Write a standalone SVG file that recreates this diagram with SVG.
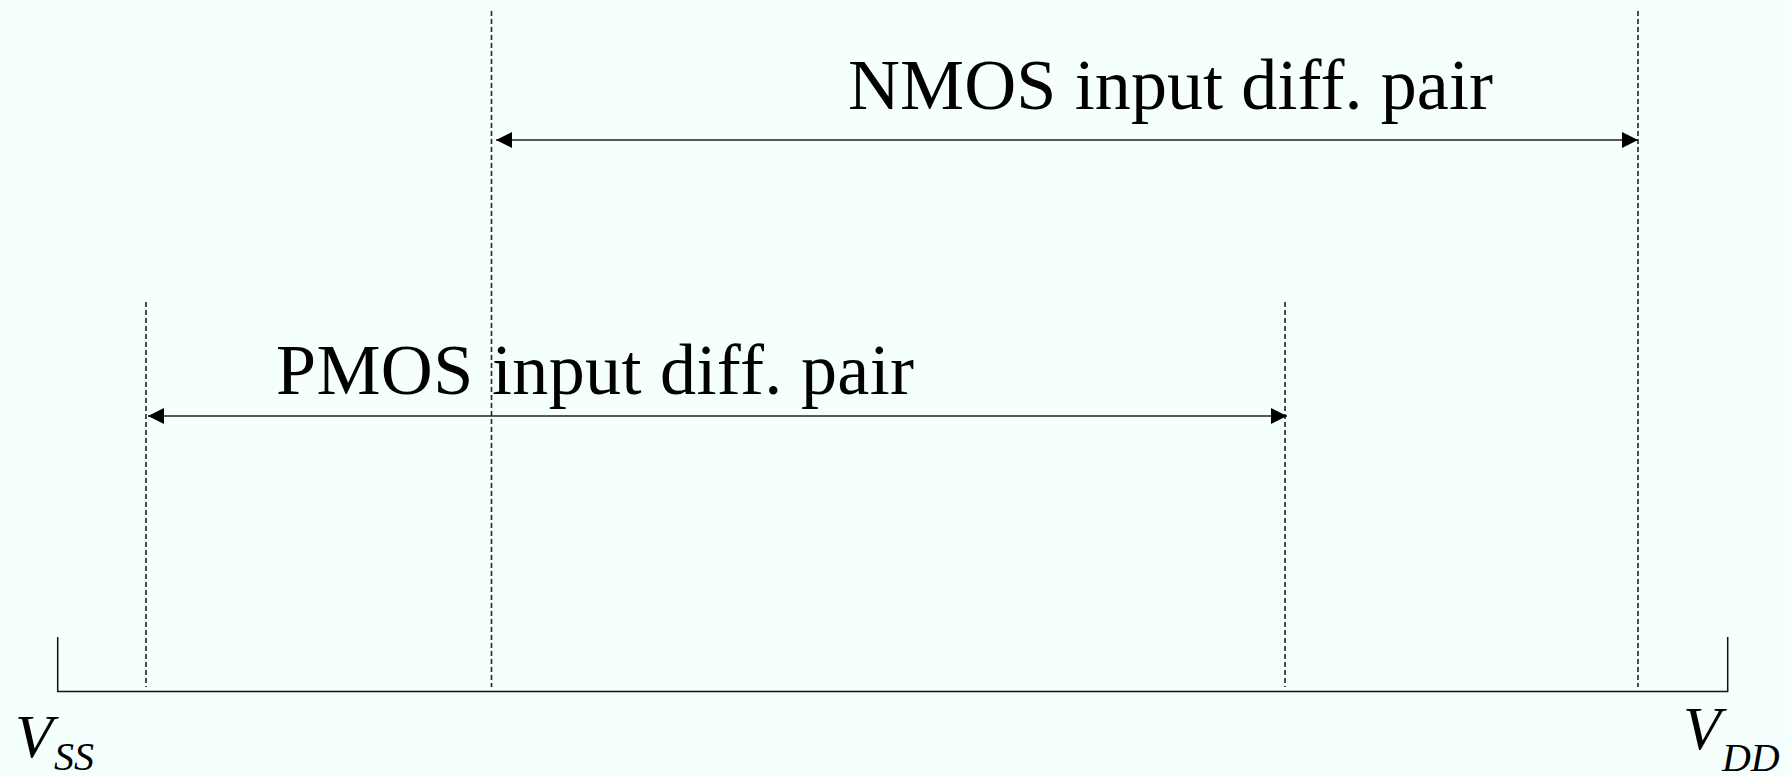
<svg xmlns="http://www.w3.org/2000/svg" width="1791" height="776" viewBox="0 0 1791 776">
  <defs>
    <style>
      .bg { fill: #F4FFFE; }
      .axis { stroke: #111; stroke-width: 1.5; fill: none; }
      .guide { stroke: #222; stroke-width: 1.6; stroke-dasharray: 5 3; fill: none; }
      .span { stroke: #222; stroke-width: 1.5; fill: none; marker-start: url(#head-start); marker-end: url(#head-end); }
      .label { font-family: "Liberation Serif", "Times New Roman", serif; font-size: 72px; fill: #000; }
      .rail { font-family: "Liberation Serif", "Times New Roman", serif; font-style: italic; fill: #000; }
    </style>
    <marker id="head-end" viewBox="0 0 16 16" refX="16" refY="8" markerWidth="16" markerHeight="16" markerUnits="userSpaceOnUse" orient="auto">
      <path d="M0,0 L16,8 L0,16 Z" fill="#000"/>
    </marker>
    <marker id="head-start" viewBox="0 0 16 16" refX="0" refY="8" markerWidth="16" markerHeight="16" markerUnits="userSpaceOnUse" orient="auto">
      <path d="M16,0 L0,8 L16,16 Z" fill="#000"/>
    </marker>
  </defs>

  <rect class="bg" x="0" y="0" width="1791" height="776"/>

  <!-- supply axis from VSS to VDD -->
  <g id="axis">
    <polyline class="axis" points="57.7,637 57.7,691.5 1727.7,691.5 1727.7,637"/>
  </g>

  <!-- range boundaries -->
  <g id="guides">
    <line class="guide" x1="146" y1="302" x2="146" y2="687"/>
    <line class="guide" x1="491.5" y1="11" x2="491.5" y2="687"/>
    <line class="guide" x1="1285" y1="302" x2="1285" y2="687"/>
    <line class="guide" x1="1638" y1="11" x2="1638" y2="687"/>
  </g>

  <!-- input range spans -->
  <g id="connectors">
    <line class="span" x1="496" y1="140" x2="1638" y2="140"/>
    <line class="span" x1="148" y1="416" x2="1287" y2="416"/>
  </g>

  <g id="nmos-range">
    <text class="label" x="848" y="108.5" textLength="645" lengthAdjust="spacing">NMOS input diff. pair</text>
  </g>

  <g id="pmos-range">
    <text class="label" x="276" y="394" textLength="638" lengthAdjust="spacing">PMOS input diff. pair</text>
  </g>

  <g id="vss">
    <text class="rail" x="15" y="756.5" font-size="62">V<tspan font-size="40" dx="1" dy="13">SS</tspan></text>
  </g>

  <g id="vdd">
    <text class="rail" x="1683" y="749" font-size="62">V<tspan font-size="40" dx="1" dy="22">DD</tspan></text>
  </g>
</svg>
